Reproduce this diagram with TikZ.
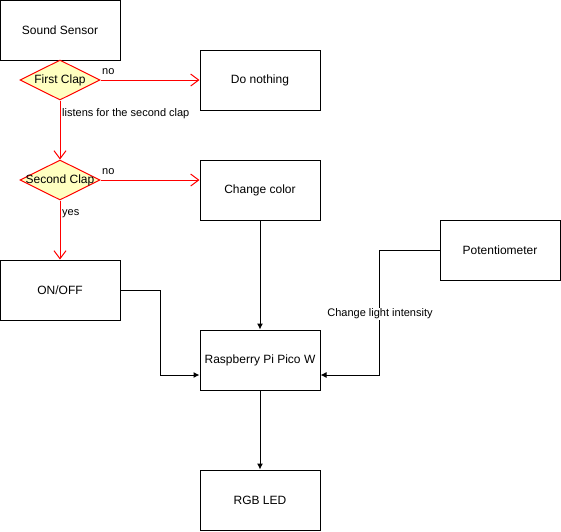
\documentclass[tikz,border=0pt]{standalone}
\usepackage{fontspec}
\setmainfont{Liberation Sans}
\usetikzlibrary{shapes.geometric,arrows.meta}
\definecolor{diafill}{HTML}{FFFFC0}
\tikzset{
  box/.style={draw=black, line width=1pt, minimum width=120pt, minimum height=60pt, inner sep=0pt, font=\fontsize{12}{14}\selectfont},
  dia/.style={diamond, draw=red, fill=diafill, line width=1pt, minimum width=80pt, minimum height=40pt, inner sep=0pt, aspect=2},
  diatext/.style={font=\fontsize{12}{14}\selectfont},
  redarrow/.style={draw=red, line width=1pt, -{Straight Barb[length=8pt,width=12pt,line width=1pt]}},
  blackarrow/.style={draw=black, line width=1pt, -{Latex[length=6pt,width=6pt]}},
  lbl/.style={font=\fontsize{11}{13}\selectfont, inner sep=1pt},
}
\begin{document}
\begin{tikzpicture}[x=1pt,y=-1pt]
\useasboundingbox (0,0) rectangle (561,531);
\node[box] (ss) at (60,30) {Sound Sensor};
\node[dia, label={[diatext]center:First Clap}] (c1) at (60,80) {};
\node[box] (dn) at (260,80) {Do nothing};
\node[dia, label={[diatext]center:Second Clap}] (c2) at (60,180) {};
\node[box] (cc) at (260,190) {Change color};
\node[box] (onoff) at (60,290) {ON/OFF};
\node[box] (pot) at (500,250) {Potentiometer};
\node[box] (rpi) at (260,360) {Raspberry Pi Pico W};
\node[box] (led) at (260,500) {RGB LED};

\draw[redarrow] (c1.east) -- (dn.west);
\node[lbl, anchor=west] (no1) at (101,72) {no};
\draw[redarrow] (c1.south) -- (c2.north);
\node[lbl, anchor=west] (lis) at (61,114) {listens for the second clap};
\draw[redarrow] (c2.east) -- (c2.east -| cc.west);
\node[lbl, anchor=west] (no2) at (101,172) {no};
\draw[redarrow] (c2.south) -- (onoff.north);
\node[lbl, anchor=west] (yes) at (61,214) {yes};

\draw[blackarrow] (cc.south) -- (rpi.north);
\draw[blackarrow] (rpi.south) -- (led.north);
\draw[blackarrow] (onoff.east) -- ++(40,0) |- ([yshift=-15pt]rpi.west);
\draw[blackarrow] (pot.west) -- ++(-60,0) |- ([yshift=-15pt]rpi.east);
\node[lbl, fill=white] (cli) at (380,314) {Change light intensity};
\end{tikzpicture}
\end{document}
